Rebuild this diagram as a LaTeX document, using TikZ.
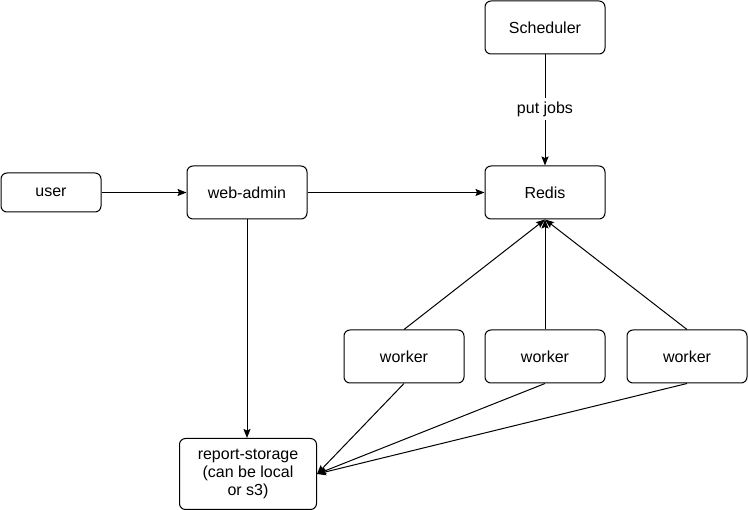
\documentclass[tikz,border=0pt]{standalone}
\usepackage{fontspec}
\setmainfont{Liberation Sans}
\usetikzlibrary{arrows.meta}
\tikzset{
  box/.style={draw,rounded corners=6pt,line width=1pt,minimum width=120pt,
    minimum height=53pt,inner sep=0pt,align=center,
    font=\fontsize{16}{18.4}\selectfont},
  link/.style={-{Stealth[length=9pt,width=7pt,inset=1.5pt]},line width=1pt}
}
\begin{document}
\begin{tikzpicture}[x=1pt,y=-1pt]
  \useasboundingbox (0,0) rectangle (748,510);
  % boxes
  \node[box,minimum width=100pt,minimum height=39pt] (user) at (51,192.5) {user};
  \node[box] (admin) at (247,192.5) {web-admin};
  \node[box] (sched) at (545,27.5) {Scheduler};
  \node[box] (redis) at (545,192.5) {Redis};
  \node[box] (w1) at (404,356.5) {worker};
  \node[box] (w2) at (545,356.5) {worker};
  \node[box] (w3) at (687,356.5) {worker};
  \node[box,minimum width=137pt,minimum height=71pt] (store) at (248,474)
    {report-storage\\(can be local\\or s3)};
  % links
  \draw[link] (user) -- (admin);
  \draw[link] (admin) -- (redis);
  \draw[link] (admin) -- (admin |- store.north);
  \draw[link] (sched) -- node[fill=white,font=\fontsize{16}{18.4}\selectfont,pos=0.49] {put jobs} (redis);
  \foreach \w in {w1,w2,w3} {
    \draw[link] (\w.north) -- (redis.south);
    \draw[link] (\w.south) -- (store.east);
  }
\end{tikzpicture}
\end{document}
